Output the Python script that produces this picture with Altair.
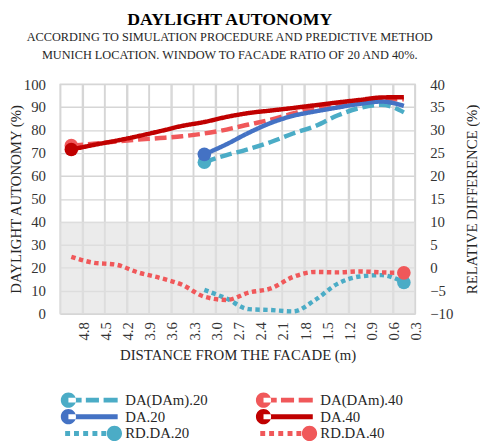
import altair as alt
import pandas as pd

# ---------------- data ----------------
distance = ["4.8", "4.5", "4.2", "3.9", "3.6", "3.3", "3.0", "2.7",
            "2.4", "2.1", "1.8", "1.5", "1.2", "0.9", "0.6", "0.3"]

series_names = ["DA(DAm).20", "DA(DAm).40", "DA.20", "DA.40", "RD.DA.20", "RD.DA.40"]

da_dam_20 = [None, None, None, None, None, None,
             66.0, 69.1, 71.7, 74.8, 78.5, 81.7, 86.3, 89.6, 91.0, 87.7]
da_20 = [None, None, None, None, None, None,
         69.4, 73.8, 78.8, 83.1, 86.2, 88.1, 89.8, 91.4, 92.4, 90.5]
rd_da_20 = [None, None, None, None, None, None,
            -4.8, -6.7, -9.0, -9.2, -9.5, -7.0, -3.5, -1.9, -1.6, -3.2]
da_dam_40 = [73.2, 74.0, 75.0, 75.8, 76.5, 77.3, 78.5, 80.2,
             82.4, 84.5, 87.2, 89.7, 91.3, 92.6, 93.2, 93.4]
da_40 = [71.5, 73.5, 75.3, 77.3, 79.5, 81.8, 83.5, 85.7,
         87.4, 88.5, 89.6, 90.8, 92.0, 93.1, 94.2, 94.3]
rd_da_40 = [2.4, 1.1, 0.7, -1.0, -2.2, -3.7, -6.3, -7.0,
            -5.4, -4.5, -2.0, -0.9, -1.0, -0.8, -1.0, -1.1]

shaded_band = [0, 40]          # grey zone on the left axis
left_range = [0, 100]
right_range = [-10, 40]

series_values = {
    "DA(DAm).20": da_dam_20, "DA(DAm).40": da_dam_40,
    "DA.20": da_20, "DA.40": da_40,
    "RD.DA.20": rd_da_20, "RD.DA.40": rd_da_40,
}

# ---------------- styles ----------------
LIGHT_BLUE = "#4BACC6"
BLUE = "#4472C4"
LIGHT_RED = "#F0585A"
DARK_RED = "#C00000"
styles = {
    "DA(DAm).20": dict(color=LIGHT_BLUE, dash=[12, 5], side="left", marker="first"),
    "DA(DAm).40": dict(color=LIGHT_RED, dash=[12, 5], side="left", marker="first"),
    "DA.20": dict(color=BLUE, dash=[1, 0], side="left", marker="first"),
    "DA.40": dict(color=DARK_RED, dash=[1, 0], side="left", marker="first"),
    "RD.DA.20": dict(color=LIGHT_BLUE, dash=[4.5, 3.5], side="right", marker="last"),
    "RD.DA.40": dict(color=LIGHT_RED, dash=[4.5, 3.5], side="right", marker="last"),
}

FONT = "Liberation Serif, Times New Roman, Tinos, DejaVu Serif, serif"
GRID = "#d6d6d6"
GRID_W = 1.4
W, H = 360, 233
LW = 4.5
MARKER = 190
N = len(distance)

# legend symbols (line + circle) as svg paths; 1 unit = 7.5 px, x=-1 is the entry's left edge
def rect(x0, x1, h=0.333):
    return f"M{x0:.3f},{-h}H{x1:.3f}V{h}H{x0:.3f}Z"

def circ(cx, r=1.027):
    return f"M{cx - r:.3f},0A{r},{r} 0 1,0 {cx + r:.3f},0A{r},{r} 0 1,0 {cx - r:.3f},0Z"

def u(px):
    return px / 7.5 - 1

EXT = f"M{u(0):.3f},-1.07M{u(63):.3f},1.07"
sym_dashed = EXT + circ(u(8.3)) + rect(u(8.3), u(21.7)) + rect(u(26), u(39.3)) + rect(u(44), u(58.3))
sym_solid = EXT + circ(u(8.3)) + rect(u(8.3), u(58.3))
sym_dotted = EXT + "".join(rect(u(a), u(a + 5)) for a in [5, 14, 23.3, 32.7, 41.7]) + circ(u(55))
legend_paths = [sym_dashed, sym_dashed, sym_solid, sym_solid, sym_dotted, sym_dotted]
legend_colors = [styles[s]["color"] for s in series_names]

# ---------------- tables ----------------
# each distance category occupies one slot; points sit in the middle of their slot
rows, mrows = [], []
for name in series_names:
    vals = series_values[name]
    valid = [(i + 0.5, d, v) for i, (d, v) in enumerate(zip(distance, vals)) if v is not None]
    for p, d, v in valid:
        rows.append({"pos": p, "dist": d, "series": name, "value": v})
    p, d, v = valid[0] if styles[name]["marker"] == "first" else valid[-1]
    mrows.append({"pos": p, "dist": d, "series": name, "value": v})
df = pd.DataFrame(rows)
mdf = pd.DataFrame(mrows)
band_df = pd.DataFrame({"value": [shaded_band[0]], "value_hi": [shaded_band[1]]})
legend_df = pd.DataFrame({"series": series_names})
# slot boundaries -> vertical grid lines
grid_df = pd.DataFrame({"pos": list(range(0, N + 1)),
                        "value": [left_range[0]] * (N + 1),
                        "value_hi": [left_range[1]] * (N + 1)})

# ---------------- encodings ----------------
label_array = "[" + ",".join(f"'{d}'" for d in distance) + "]"
x_axis = alt.Axis(title="DISTANCE FROM THE FACADE (m)", values=list(range(0, N + 1)),
                  labelExpr=f"datum.value < 1 ? '' : {label_array}[datum.value - 1]",
                  labelAngle=270, labelAlign="right", labelBaseline="middle",
                  labelOffset=1, labelFlush=False, labelOverlap=False,
                  ticks=False, tickSize=0, domain=False,
                  grid=True, gridColor=GRID, gridWidth=GRID_W, gridOpacity=1,
                  labelPadding=8, titlePadding=8)
x_enc = alt.X("pos:Q", scale=alt.Scale(domain=[0, N], nice=False, zero=False), axis=x_axis)

left_scale = alt.Scale(domain=left_range, nice=False, zero=False)
left_axis = alt.Axis(values=list(range(0, 101, 10)), title="DAYLIGHT AUTONOMY (%)",
                     grid=True, gridColor=GRID, gridWidth=GRID_W, gridOpacity=1, domain=False,
                     ticks=False, tickSize=0, labelPadding=15, titlePadding=0)
right_scale = alt.Scale(domain=right_range, nice=False, zero=False)
right_axis = alt.Axis(orient="right", values=list(range(-10, 41, 5)),
                      title="RELATIVE DIFFERENCE (%)", titleAngle=270, titleBaseline="top",
                      grid=False, domain=False, ticks=False, tickSize=0,
                      labelPadding=15, titlePadding=12)
y_left = alt.Y("value:Q", scale=left_scale, axis=left_axis)
y_right = alt.Y("value:Q", scale=right_scale, axis=right_axis)


def series_layers(name):
    st = styles[name]
    y = y_left if st["side"] == "left" else y_right
    line = alt.Chart(df).transform_filter(alt.datum.series == name).mark_line(
        color=st["color"], strokeWidth=LW, strokeDash=st["dash"], interpolate="monotone",
        strokeCap="butt", strokeJoin="round"
    ).encode(x=x_enc, y=y)
    pt = alt.Chart(mdf).transform_filter(alt.datum.series == name).mark_circle(
        color=st["color"], size=MARKER, opacity=1
    ).encode(x=x_enc, y=y)
    return [line, pt]


vgrid = alt.Chart(grid_df).mark_rule(color=GRID, strokeWidth=GRID_W, opacity=1).encode(
    x=x_enc, y=y_left, y2="value_hi:Q")

band = alt.Chart(band_df).mark_rect(color="#e1e1e1", opacity=0.66).encode(
    y=y_left, y2="value_hi:Q")

leg = alt.Legend(title=None, orient="none", legendX=0, legendY=313,
                 direction="horizontal", columns=2, symbolSize=225,
                 symbolStrokeWidth=0, symbolOpacity=1, labelFont=FONT,
                 labelFontSize=15, labelColor="#262626", labelOffset=51,
                 columnPadding=48, rowPadding=0, padding=0, labelLimit=300)

legend_layer = alt.Chart(legend_df).transform_filter("false").mark_point(
    filled=True, opacity=1).encode(
    fill=alt.Fill("series:N", scale=alt.Scale(domain=series_names, range=legend_colors), legend=leg),
    shape=alt.Shape("series:N", scale=alt.Scale(domain=series_names, range=legend_paths), legend=leg),
)

left_layers = [vgrid, band]
for n in ["DA(DAm).20", "DA(DAm).40", "DA.20", "DA.40"]:
    left_layers += series_layers(n)
left_layers.append(legend_layer)

right_layers = []
for n in ["RD.DA.20", "RD.DA.40"]:
    right_layers += series_layers(n)

chart = alt.layer(alt.layer(*left_layers), alt.layer(*right_layers)).resolve_scale(
    y="independent"
).properties(
    width=W, height=H,
    padding={"left": 0, "top": 0, "right": 0, "bottom": 0},
    title=alt.TitleParams(
        text="DAYLIGHT AUTONOMY",
        subtitle=["ACCORDING TO SIMULATION PROCEDURE AND PREDICTIVE METHOD",
                  "MUNICH LOCATION. WINDOW TO FACADE RATIO OF 20 AND 40%."],
        font=FONT, fontSize=18, fontWeight="bold", color="#000000",
        subtitleFont=FONT, subtitleFontSize=12.5, subtitleColor="#262626",
        subtitleLineHeight=18, subtitlePadding=2, anchor="middle", offset=15, dx=-8, dy=-1,
    ),
).configure_view(
    stroke=GRID, strokeWidth=GRID_W
).configure_axis(
    labelFont=FONT, titleFont=FONT, labelFontSize=15, titleFontSize=15,
    titleFontWeight="normal", labelColor="#333333", titleColor="#262626"
)

chart.save("out.html", embed_options={"renderer": "svg", "actions": False})
